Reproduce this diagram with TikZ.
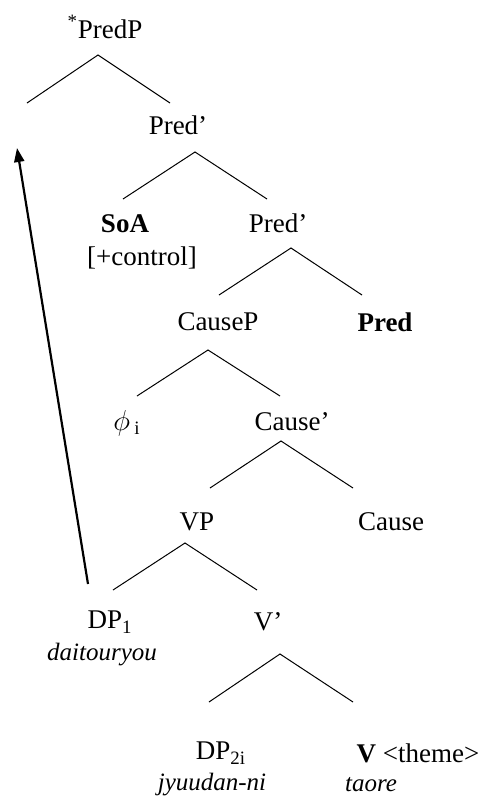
\documentclass[tikz,border=0pt]{standalone}
\usepackage{fontspec}
\setmainfont{Liberation Serif}
\usetikzlibrary{arrows.meta}

\tikzset{
  lab/.style={inner sep=0pt, font=\fontsize{13.5}{15}\selectfont},
  gloss/.style={inner sep=0pt, font=\fontsize{12.5}{14}\selectfont\itshape},
  leg/.style={line width=0.5pt},
  move/.style={line width=1.1pt, -{Triangle[length=7pt,width=5pt]}},
}

\begin{document}
\begin{tikzpicture}[x=0.5pt, y=-0.5pt]
\useasboundingbox (0,0) rectangle (486,799);

%--- Labels ---
\node[lab] (predp) at (105,27) {\textsuperscript{*}PredP};
\node[lab] (predbar) at (178,125) {Pred’};
\node[lab] (soa) at (125,224) {\textbf{SoA}};
\node[lab] (control) at (142,258) {[+control]};
\node[lab] (predbarb) at (278,223) {Pred’};
\node[lab] (causep) at (218,322) {CauseP};
\node[lab] (pred) at (385,322) {\textbf{Pred}};
\node[lab] (phi) at (127,423) {$\phi$\,\textsubscript{i}};
\node[lab] (causebar) at (292,422) {Cause’};
\node[lab] (vp) at (197,522) {VP};
\node[lab] (cause) at (391,522) {Cause};
\node[lab] (dpone) at (110,622) {DP\textsubscript{1}};
\node[gloss] (daitouryou) at (102,655) {daitouryou};
\node[lab] (vbar) at (268,622) {V’};
\node[lab] (dptwo) at (221,753) {DP\textsubscript{2i}};
\node[gloss] (jyuudan) at (212,785) {jyuudan-ni};
\node[lab] (verb) at (418,753) {\textbf{V} <theme>};
\node[gloss] (taore) at (371,785) {taore};

%--- Branches: apex, left leg, right leg ---
\coordinate (predp-t) at (98,55);
\coordinate (predp-l) at (27,103);
\coordinate (predp-r) at (170,103);
\draw[leg] (predp-l) -- (predp-t) -- (predp-r);

\coordinate (predbar-t) at (195,152);
\coordinate (predbar-l) at (123,199);
\coordinate (predbar-r) at (267,199);
\draw[leg] (predbar-l) -- (predbar-t) -- (predbar-r);

\coordinate (predbarb-t) at (291,248);
\coordinate (predbarb-l) at (219,295);
\coordinate (predbarb-r) at (362,295);
\draw[leg] (predbarb-l) -- (predbarb-t) -- (predbarb-r);

\coordinate (causep-t) at (208,350);
\coordinate (causep-l) at (137,396);
\coordinate (causep-r) at (280,396);
\draw[leg] (causep-l) -- (causep-t) -- (causep-r);

\coordinate (causebar-t) at (281,441);
\coordinate (causebar-l) at (210,488);
\coordinate (causebar-r) at (353,488);
\draw[leg] (causebar-l) -- (causebar-t) -- (causebar-r);

\coordinate (vp-t) at (185,543);
\coordinate (vp-l) at (113,590);
\coordinate (vp-r) at (257,590);
\draw[leg] (vp-l) -- (vp-t) -- (vp-r);

\coordinate (vbar-t) at (280,654);
\coordinate (vbar-l) at (209,702);
\coordinate (vbar-r) at (353,702);
\draw[leg] (vbar-l) -- (vbar-t) -- (vbar-r);

%--- Movement of DP1 to the empty specifier ---
\coordinate (trace) at (88,584);
\coordinate (landing) at (17,148);
\draw[move] (trace) -- (landing);

\end{tikzpicture}
\end{document}
